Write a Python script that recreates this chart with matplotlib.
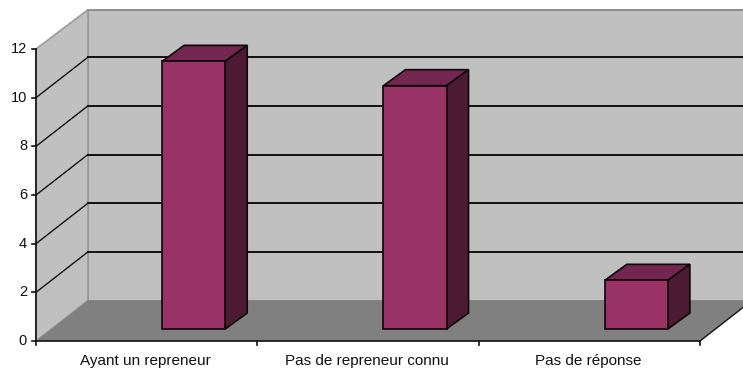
import matplotlib
matplotlib.use("Agg")
import matplotlib.pyplot as plt
from matplotlib.patches import Polygon
from matplotlib.transforms import Affine2D

categories = ["Ayant un repreneur", "Pas de repreneur connu", "Pas de réponse"]
values = [11, 10, 2]
y_ticks = [0, 2, 4, 6, 8, 10, 12]

W, H = 743, 369
plt.rcParams["font.family"] = ["Liberation Sans", "DejaVu Sans"]
fig = plt.figure(figsize=(W / 100, H / 100), dpi=100, facecolor="white")
ax = fig.add_axes([36 / W, (H - 341) / H, 664 / W, 292 / H], zorder=1)
ax.set_xlim(0, len(categories))
ax.set_ylim(0, max(y_ticks))
ax.axis("off")

def shifted(dx, dy):
    return ax.transData + Affine2D().translate(dx, dy)

DX, DY = 52, 40.5
back = shifted(DX, DY)
x0, x1 = ax.get_xlim()
y0, y1 = ax.get_ylim()
ptrans = ax.transData

ax.add_patch(Polygon([(x0, y0), (x1, y0), (x1, y1 - 0.05), (x0, y1 - 0.05)], closed=True, transform=back,
                     fc="#c0c0c0", ec="#808080", lw=1.2, clip_on=False, zorder=1))

def plane_pts(x, y, t):
    return t.transform((x, y))
fig_inv = fig.transFigure.inverted()
def to_fig(p):
    return fig_inv.transform(p)

side = [to_fig(plane_pts(x0, y0, ptrans)), to_fig(plane_pts(x0, y0, back)),
        to_fig(plane_pts(x0, y1 - 0.05, back)), to_fig(plane_pts(x0, y1, ptrans))]
ax.add_patch(Polygon(side, closed=True, transform=fig.transFigure, fc="#c0c0c0", ec="#9a9a9a",
                     lw=1.2, clip_on=False, zorder=2))
floor = [to_fig(plane_pts(x0, y0, ptrans)), to_fig(plane_pts(x1, y0, ptrans)),
         to_fig(plane_pts(x1, y0, back)), to_fig(plane_pts(x0, y0, back))]
ax.add_patch(Polygon(floor, closed=True, transform=fig.transFigure, fc="#808080", ec="none",
                     clip_on=False, zorder=2))

for v in y_ticks[1:-1]:
    ax.plot([x0, x1], [v, v], transform=back, color="#111111", lw=1.4, clip_on=False, zorder=2.5)
    a, b = to_fig(plane_pts(x0, v, ptrans)), to_fig(plane_pts(x0, v, back))
    ax.plot([a[0], b[0]], [a[1], b[1]], transform=fig.transFigure, color="#111111", lw=1.0,
            clip_on=False, zorder=2.5)

a, b = to_fig(plane_pts(x1, y0, ptrans)), to_fig(plane_pts(x1, y0, back))
ax.plot([a[0], b[0]], [a[1], b[1]], transform=fig.transFigure, color="#111111", lw=1.0,
        clip_on=False, zorder=2.5)

BX, BY = 47, 12
DBX, DBY = 22, 16
bar_w = 0.285
fr = shifted(BX, BY)
bk = shifted(BX + DBX, BY + DBY)
centres = [i + 0.5 for i in range(len(categories))]
ax.bar(centres, values, width=bar_w, color="#993366", edgecolor="#0d0508", linewidth=1.2,
       transform=fr, clip_on=False, zorder=4)
for c, v in zip(centres, values):
    l, r = c - bar_w / 2, c + bar_w / 2
    top = [to_fig(plane_pts(l, v, fr)), to_fig(plane_pts(r, v, fr)),
           to_fig(plane_pts(r, v, bk)), to_fig(plane_pts(l, v, bk))]
    sd = [to_fig(plane_pts(r, 0, fr)), to_fig(plane_pts(r, 0, bk)),
          to_fig(plane_pts(r, v, bk)), to_fig(plane_pts(r, v, fr))]
    ax.add_patch(Polygon(top, closed=True, transform=fig.transFigure, fc="#732650", ec="#0d0508",
                         lw=1.2, clip_on=False, zorder=3.5))
    ax.add_patch(Polygon(sd, closed=True, transform=fig.transFigure, fc="#4d1a33", ec="#0d0508",
                         lw=1.2, clip_on=False, zorder=3.5))

ax.plot([x0, x0], [y0, y1], color="#111111", lw=1.2, clip_on=False, zorder=5)
ax.plot([x0, x1], [y0, y0], color="#111111", lw=1.2, clip_on=False, zorder=5)
tick_y = shifted(-4, 0)
for v in y_ticks:
    a, b = to_fig(plane_pts(x0, v, ptrans)), to_fig(plane_pts(x0, v, tick_y))
    ax.plot([a[0], b[0]], [a[1], b[1]], transform=fig.transFigure, color="#111111", lw=1.2,
            clip_on=False, zorder=5)
    ax.annotate(str(v), (x0, v), xytext=(-9, 0), textcoords="offset pixels", ha="right",
                va="center", fontsize=10.5, color="#111111", annotation_clip=False)
for i in range(len(categories) + 1):
    a, b = to_fig(plane_pts(i, y0, ptrans)), to_fig(plane_pts(i, y0, shifted(0, -4)))
    ax.plot([a[0], b[0]], [a[1], b[1]], transform=fig.transFigure, color="#111111", lw=1.2,
            clip_on=False, zorder=5)
for c, lab in zip(centres, categories):
    ax.annotate(lab, (c, y0), xytext=(-1, -20), textcoords="offset pixels", ha="center",
                va="center", fontsize=11, color="#111111", annotation_clip=False)

fig.savefig("out.png", dpi=100, facecolor="white")
